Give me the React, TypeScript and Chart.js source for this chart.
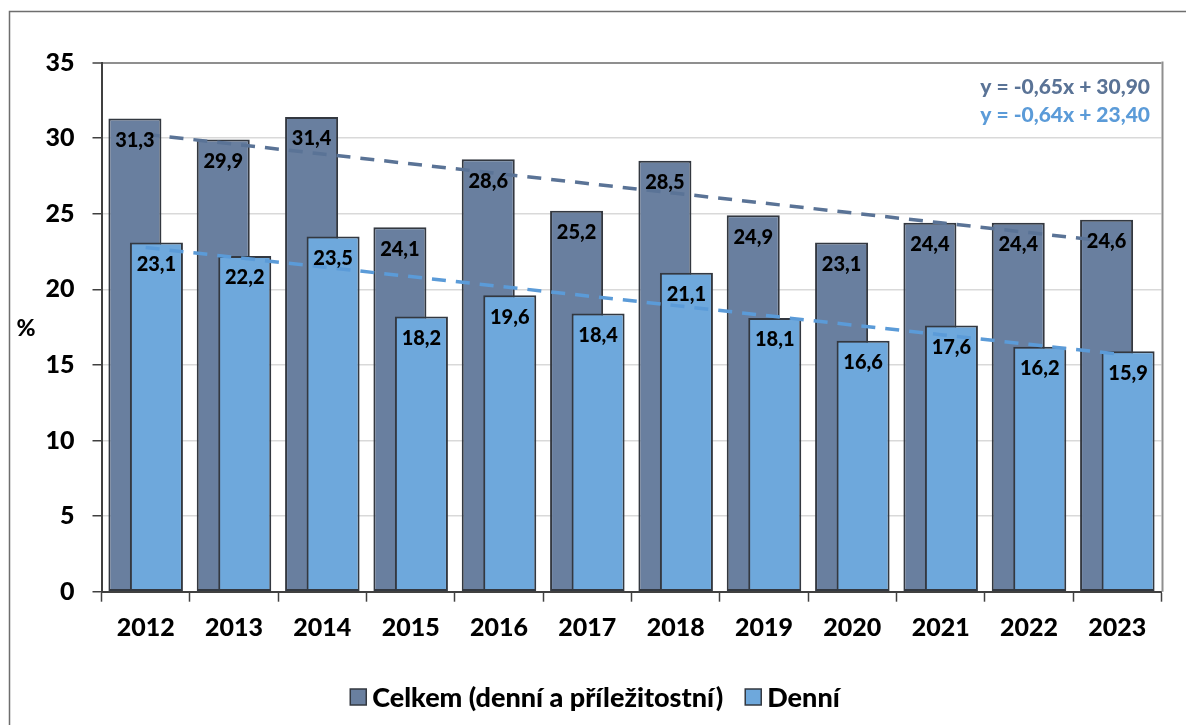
import React, { useEffect, useRef } from 'react';
import { Chart, registerables } from 'chart.js';

Chart.register(...registerables);

// ---------- data ----------
const YEARS = ['2012', '2013', '2014', '2015', '2016', '2017', '2018', '2019', '2020', '2021', '2022', '2023'];
const CELKEM = [31.3, 29.9, 31.4, 24.1, 28.6, 25.2, 28.5, 24.9, 23.1, 24.4, 24.4, 24.6];
const DENNI = [23.1, 22.2, 23.5, 18.2, 19.6, 18.4, 21.1, 18.1, 16.6, 17.6, 16.2, 15.9];
const Y_TICKS = [0, 5, 10, 15, 20, 25, 30, 35];
const SERIES_NAMES = ['Celkem (denní a příležitostní)', 'Denní'];
// linear trendlines shown in the chart (x = 1..12)
const CELKEM_TREND = { slope: -0.65, intercept: 30.9 };
const DENNI_TREND = { slope: -0.64, intercept: 23.4 };
const EQUATIONS = ['y = -0,65x + 30,90', 'y = -0,64x + 23,40'];
const Y_TITLE = '%';

// ---------- style ----------
const FONT = 'Lato, "Open Sans", "DejaVu Sans", sans-serif';
const W = 900;
const DARK = '#697f9f';
const LIGHT = '#6ea8dc';
const DARK_TREND = '#5a7396';
const LIGHT_TREND = '#5b9bd8';
const BAR_BORDER = '#333840';
const AXIS = '#404040';

const fmt = (v: number) => v.toFixed(1).replace('.', ',');
const trend = (t: { slope: number; intercept: number }) => YEARS.map((_, i) => t.slope * (i + 1) + t.intercept);

const decorPlugin = {
  id: 'decor',
  beforeDraw(chart: any) {
    const { ctx, width, height } = chart;
    ctx.save();
    ctx.fillStyle = '#ffffff';
    ctx.fillRect(0, 0, width, height);
    ctx.strokeStyle = '#6e6e6e';
    ctx.lineWidth = 1.5;
    ctx.beginPath();
    ctx.moveTo(9.5, height + 5);
    ctx.lineTo(9.5, 11.5);
    ctx.lineTo(width + 5, 11.5);
    ctx.stroke();
    ctx.restore();
  },
  beforeDatasetsDraw(chart: any) {
    const { ctx, chartArea: a } = chart;
    ctx.save();
    ctx.beginPath();
    ctx.rect(a.left, a.top - 3, a.right - a.left, a.bottom - a.top + 6);
    ctx.clip();
    for (const i of [0, 1, 2, 3]) {
      const m = chart.getDatasetMeta(i);
      if (m && !m.hidden) m.controller.draw();
    }
    ctx.restore();
    return false;
  },
  afterDraw(chart: any) {
    const { ctx, chartArea: a } = chart;
    ctx.save();
    // right border of plot area
    ctx.strokeStyle = '#8f8f8f';
    ctx.lineWidth = 2;
    ctx.beginPath();
    ctx.moveTo(a.right + 1, a.top - 1);
    ctx.lineTo(a.right + 1, a.bottom);
    ctx.stroke();

    // data labels
    ctx.fillStyle = '#000';
    ctx.font = `${W} 20px ${FONT}`;
    ctx.textAlign = 'center';
    ctx.textBaseline = 'middle';
    [0, 1].forEach((di) => {
      const meta = chart.getDatasetMeta(di);
      const values = chart.data.datasets[di].data as number[];
      meta.data.forEach((el: any, i: number) => {
        ctx.fillText(fmt(values[i]), el.x, el.y + 22);
      });
    });

    // trend equations
    ctx.textAlign = 'right';
    ctx.font = `${W} 21px ${FONT}`;
    ctx.fillStyle = DARK_TREND;
    ctx.fillText(EQUATIONS[0], 1150, 87);
    ctx.fillStyle = LIGHT_TREND;
    ctx.fillText(EQUATIONS[1], 1150, 115);

    // y title
    ctx.fillStyle = '#000';
    ctx.textAlign = 'center';
    ctx.font = `${W} 23px ${FONT}`;
    ctx.fillText(Y_TITLE, 26, 329);

    // legend
    const items = [
      { label: SERIES_NAMES[0], color: DARK },
      { label: SERIES_NAMES[1], color: LIGHT },
    ];
    ctx.font = `${W} 27px ${FONT}`;
    const box = 16;
    const gapBT = 6;
    const gapItems = 22;
    const widths = items.map((it) => box + gapBT + ctx.measureText(it.label).width);
    const total = widths.reduce((s, w) => s + w, 0) + gapItems * (items.length - 1);
    let x = 595 - total / 2;
    const cy = 697;
    ctx.textAlign = 'left';
    items.forEach((it, i) => {
      ctx.fillStyle = it.color;
      ctx.fillRect(x, cy - box / 2, box, box);
      ctx.strokeStyle = BAR_BORDER;
      ctx.lineWidth = 1.5;
      ctx.strokeRect(x, cy - box / 2, box, box);
      ctx.fillStyle = '#000';
      ctx.fillText(it.label, x + box + gapBT, cy + 1);
      x += widths[i] + gapItems;
    });
    ctx.restore();
  },
};

export default function App() {
  const ref = useRef<HTMLCanvasElement>(null);

  useEffect(() => {
    if (!ref.current) return;
    const tickFont = { family: FONT, size: 25, weight: W as any };
    const chart = new Chart(ref.current, {
      type: 'bar',
      data: {
        labels: YEARS,
        datasets: [
          {
            type: 'bar',
            label: SERIES_NAMES[0],
            data: CELKEM,
            backgroundColor: DARK,
            borderColor: BAR_BORDER,
            borderWidth: 2,
            borderSkipped: false,
            categoryPercentage: 0.487,
            barPercentage: 2.465,
          },
          {
            type: 'bar',
            label: SERIES_NAMES[1],
            data: DENNI,
            backgroundColor: LIGHT,
            borderColor: BAR_BORDER,
            borderWidth: 2,
            borderSkipped: false,
            categoryPercentage: 0.487,
            barPercentage: 2.465,
          },
          {
            type: 'line',
            label: 'trend1',
            data: trend(CELKEM_TREND),
            borderColor: DARK_TREND,
            borderWidth: 3.5,
            borderDash: [14, 10],
            pointRadius: 0,
            fill: false,
            tension: 0,
          },
          {
            type: 'line',
            label: 'trend2',
            data: trend(DENNI_TREND),
            borderColor: LIGHT_TREND,
            borderWidth: 3.5,
            borderDash: [14, 10],
            pointRadius: 0,
            fill: false,
            tension: 0,
          },
        ] as any,
      },
      options: {
        responsive: false,
        animation: false,
        devicePixelRatio: 1,
        layout: { padding: { left: 0, right: 24.5, top: 62.5, bottom: 73.3 } },
        plugins: {
          legend: { display: false },
          tooltip: { enabled: false },
          title: { display: false },
        },
        scales: {
          x: {
            type: 'category',
            offset: true,
            grid: {
              display: true,
              drawOnChartArea: false,
              offset: true,
              tickLength: 10,
              tickColor: AXIS,
              tickWidth: 1.5,
            },
            border: { display: true, color: AXIS, width: 2 },
            ticks: { color: '#000', font: tickFont, padding: 11, maxRotation: 0, autoSkip: false },
            afterFit: (s: any) => {
              s.height = 60;
            },
          },
          y: {
            min: 0,
            max: 35,
            afterBuildTicks: (s: any) => {
              s.ticks = Y_TICKS.map((v) => ({ value: v }));
            },
            grid: {
              color: (c: any) => (c.tick && c.tick.value === 35 ? '#8f8f8f' : '#d9d9d9'),
              lineWidth: (c: any) => (c.tick && c.tick.value === 35 ? 2 : 1.5),
              tickColor: AXIS,
              tickLength: 9,
              tickWidth: 1.5,
            },
            border: { display: true, color: AXIS, width: 2 },
            ticks: { color: '#000', font: tickFont, padding: 18 },
            afterFit: (s: any) => {
              s.width = 101.5;
            },
          },
        },
      },
      plugins: [decorPlugin],
    });
    return () => chart.destroy();
  }, []);

  return (
    <div style={{ position: 'fixed', left: 0, top: 0, width: 1186, height: 725, overflow: 'hidden', background: '#fff' }}>
      <canvas ref={ref} width={1186} height={725} style={{ display: 'block' }} />
    </div>
  );
}
